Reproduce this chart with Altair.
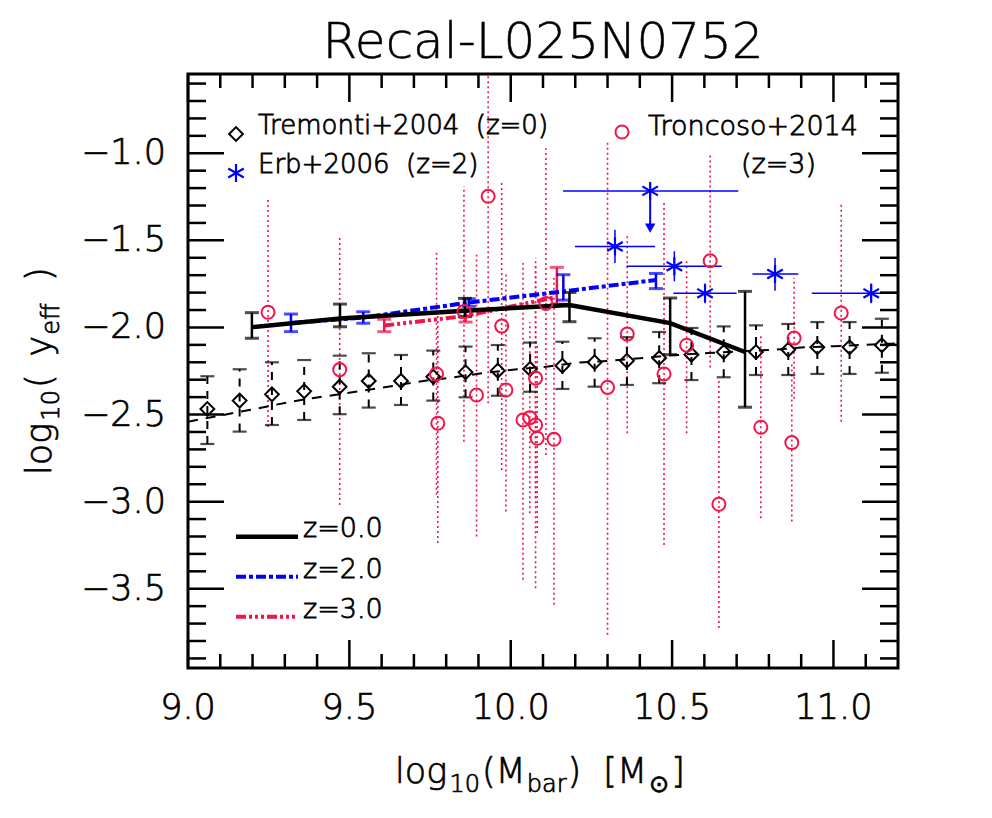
import altair as alt
import numpy as np
import pandas as pd

FONT = "DejaVu Sans"
FW = 300
RED = "#f0164a"
BLUE = "#0000ff"
W, H = 710, 594

# ---------------- axes ----------------
X_DOMAIN = [9.0, 11.2]
Y_DOMAIN = [-3.955, -0.545]
x_major = [9.0, 9.5, 10.0, 10.5, 11.0]
x_labels = ["9.0", "9.5", "10.0", "10.5", "11.0"]
y_major = [-3.5, -3.0, -2.5, -2.0, -1.5, -1.0]
y_labels = ["\u22123.5", "\u22123.0", "\u22122.5", "\u22122.0", "\u22121.5", "\u22121.0"]
x_minor = [9.1, 9.2, 9.3, 9.4, 9.6, 9.7, 9.8, 9.9, 10.1, 10.2, 10.3, 10.4,
           10.6, 10.7, 10.8, 10.9, 11.1]
y_minor = [-3.9, -3.8, -3.7, -3.6, -3.4, -3.3, -3.2, -3.1, -2.9, -2.8, -2.7,
           -2.6, -2.4, -2.3, -2.2, -2.1, -1.9, -1.8, -1.7, -1.6, -1.4, -1.3,
           -1.2, -1.1, -0.9, -0.8, -0.7, -0.6]

# ---------------- Tremonti+2004 (z=0) ----------------
trem_x = [9.06, 9.16, 9.26, 9.36, 9.47, 9.56, 9.66, 9.76, 9.86, 9.96, 10.06,
          10.16, 10.26, 10.36, 10.46, 10.56, 10.66, 10.76, 10.86, 10.95, 11.05, 11.15]
trem_y = [-2.468, -2.420, -2.384, -2.366, -2.340, -2.307, -2.307, -2.283, -2.257,
          -2.248, -2.238, -2.220, -2.200, -2.191, -2.175, -2.156, -2.141, -2.141,
          -2.128, -2.114, -2.114, -2.102]
trem_hi = [-2.280, -2.240, -2.200, -2.187, -2.162, -2.148, -2.158, -2.133, -2.110,
           -2.101, -2.087, -2.082, -2.062, -2.056, -2.026, -2.003, -1.994, -1.988,
           -1.980, -1.969, -1.969, -1.950]
trem_lo = [-2.669, -2.598, -2.560, -2.531, -2.498, -2.460, -2.445, -2.420, -2.401,
           -2.392, -2.369, -2.353, -2.340, -2.330, -2.320, -2.302, -2.286, -2.273,
           -2.273, -2.267, -2.267, -2.260]
# Tremonti fit curve (dashed)
fit_x = [9.0, 9.11, 9.19, 9.32, 9.39, 9.49, 9.59, 9.73, 9.82, 9.91, 10.02, 10.11,
         10.21, 10.31, 10.41, 10.50, 10.61, 10.81, 10.91, 11.0, 11.1, 11.2]
fit_y = [-2.541, -2.502, -2.474, -2.426, -2.405, -2.378, -2.349, -2.307, -2.287,
         -2.263, -2.240, -2.225, -2.202, -2.191, -2.175, -2.160, -2.147, -2.128,
         -2.114, -2.108, -2.099, -2.092]

# ---------------- simulation medians ----------------
z0_x = [9.198, 9.471, 9.858, 10.182, 10.494, 10.726]
z0_y = [-1.998, -1.948, -1.904, -1.871, -1.975, -2.141]
z0_hi = [-1.915, -1.866, -1.833, -1.799, -1.831, -1.793]
z0_lo = [-2.062, -1.996, -1.938, -1.967, -2.156, -2.458]

z2_x = [9.319, 9.543, 9.870, 10.163, 10.450]
z2_y = [-1.975, -1.943, -1.857, -1.793, -1.728]
z2_hi = [-1.923, -1.910, -1.835, -1.697, -1.690]
z2_lo = [-2.024, -1.976, -1.879, -1.843, -1.777]

z3_x = [9.608, 9.860, 10.143]
z3_y = [-1.989, -1.934, -1.825]
z3_hi = [-1.953, -1.900, -1.655]
z3_lo = [-2.024, -1.969, -1.866]

# ---------------- Erb+2006 (z=2) ----------------
erb_x = [10.432, 10.323, 10.507, 10.602, 10.819, 11.117]
erb_y = [-1.216, -1.535, -1.649, -1.804, -1.693, -1.804]
erb_xlo = [10.162, 10.199, 10.359, 10.504, 10.749, 10.933]
erb_xhi = [10.705, 10.447, 10.654, 10.700, 10.891, 11.300]
erb_ylo = [np.nan, -1.630, -1.735, -1.861, -1.789, -1.861]
erb_yhi = [np.nan, -1.439, -1.563, -1.747, -1.602, -1.747]
erb_lim_x = [10.432]
erb_lim_from = [-1.216]
erb_lim_to = [-1.430]

# ---------------- Troncoso+2014 (z=3) ----------------
tro_x = [9.248, 9.470, 9.770, 9.774, 9.855, 9.930, 9.894, 9.972, 9.985, 10.038,
         10.059, 10.077, 10.082, 10.077, 10.134, 10.109, 10.300, 10.361, 10.475,
         10.545, 10.618, 10.645, 10.775, 10.871, 10.878, 11.024]
tro_y = [-1.913, -2.242, -2.267, -2.550, -1.909, -1.247, -2.388, -1.992, -2.359,
         -2.531, -2.518, -2.560, -2.636, -2.291, -2.642, -1.862, -2.344, -2.038,
         -2.267, -2.102, -1.617, -3.015, -2.573, -2.661, -2.061, -1.917]
tro_hi = [-1.267, -1.487, -1.563, -1.860, -1.190, -0.060, -1.582, -1.171, -1.688,
          -1.630, -1.970, -1.649, -2.090, -1.600, -1.697, -0.971, -0.922, -1.467,
          -1.285, -1.611, -1.000, -2.300, -2.050, -2.210, -1.716, -1.296]
tro_lo = [-2.571, -3.019, -2.960, -3.237, -2.656, -2.435, -3.200, -2.818, -3.057,
          -3.449, -3.066, -3.497, -3.180, -2.980, -3.592, -2.732, -3.764, -2.607,
          -3.249, -2.607, -2.230, -3.726, -3.096, -3.114, -2.410, -2.541]

# ---------------- data frames ----------------
trem = pd.DataFrame({"x": trem_x, "y": trem_y, "lo": trem_lo, "hi": trem_hi})
fit = pd.DataFrame({"x": fit_x, "y": fit_y})
z0 = pd.DataFrame({"x": z0_x, "y": z0_y, "lo": z0_lo, "hi": z0_hi})
z2 = pd.DataFrame({"x": z2_x, "y": z2_y, "lo": z2_lo, "hi": z2_hi})
z3 = pd.DataFrame({"x": z3_x, "y": z3_y, "lo": z3_lo, "hi": z3_hi})
erb = pd.DataFrame({"x": erb_x, "y": erb_y, "xlo": erb_xlo, "xhi": erb_xhi,
                    "ylo": erb_ylo, "yhi": erb_yhi})
erb_err = erb.dropna()
erb_lim = pd.DataFrame({"x": erb_lim_x, "y": erb_lim_from, "y2": erb_lim_to})
tro = pd.DataFrame({"x": tro_x, "y": tro_y, "lo": tro_lo, "hi": tro_hi})

xs = alt.Scale(domain=X_DOMAIN, nice=False, zero=False)
ys = alt.Scale(domain=Y_DOMAIN, nice=False, zero=False)


def X(f="x"):
    return alt.X(f"{f}:Q", scale=xs, axis=None)


def Y(f="y"):
    return alt.Y(f"{f}:Q", scale=ys, axis=None)


def tstyle(size, stroke_w):
    kw = dict(font=FONT, fontSize=size, fontWeight=FW, color="black")
    if stroke_w:
        kw.update(stroke="black", strokeWidth=stroke_w)
    return kw


layers = []

# Troncoso dotted error bars
layers.append(alt.Chart(tro).mark_rule(color=RED, strokeWidth=1.6, strokeDash=[2, 3], clip=True)
              .encode(x=X(), y=Y("lo"), y2="hi:Q"))

# Tremonti fit (dashed)
layers.append(alt.Chart(fit).mark_line(color="black", strokeWidth=2, strokeDash=[10, 8], clip=True)
              .encode(x=X(), y=Y()))
# Tremonti error bars
layers.append(alt.Chart(trem).mark_rule(color="black", strokeWidth=2, strokeDash=[8, 7])
              .encode(x=X(), y=Y("lo"), y2="hi:Q"))
layers.append(alt.Chart(trem).transform_fold(["lo", "hi"], as_=["k", "v"])
              .mark_tick(orient="horizontal", color="black", size=14, thickness=2.2)
              .encode(x=X(), y=Y("v")))
layers.append(alt.Chart(trem).mark_point(shape="diamond", filled=False, color="black",
                                         size=190, strokeWidth=2, opacity=1)
              .encode(x=X(), y=Y()))


def sim_layers(df, color, dash, width=4):
    out = []
    out.append(alt.Chart(df).mark_rule(color=color, strokeWidth=2.5)
               .encode(x=X(), y=Y("lo"), y2="hi:Q"))
    out.append(alt.Chart(df).transform_fold(["lo", "hi"], as_=["k", "v"])
               .mark_tick(orient="horizontal", color=color, size=14, thickness=3)
               .encode(x=X(), y=Y("v")))
    kw = dict(color=color, strokeWidth=width)
    if dash:
        kw["strokeDash"] = dash
    out.append(alt.Chart(df).mark_line(**kw).encode(x=X(), y=Y()))
    return out


DASH_Z2 = [10, 3, 4, 3]
DASH_Z3 = [10, 3, 3, 3, 3, 3, 3, 3]
layers += sim_layers(z3, RED, DASH_Z3)
layers += sim_layers(z2, BLUE, DASH_Z2)
layers += sim_layers(z0, "black", None, width=4.5)

# Erb
STAR = "M0,-1L0,1M-0.87,-0.5L0.87,0.5M-0.87,0.5L0.87,-0.5"
layers.append(alt.Chart(erb).mark_rule(color=BLUE, strokeWidth=1.5, clip=True)
              .encode(x=X("xlo"), x2="xhi:Q", y=Y()))
layers.append(alt.Chart(erb_err).mark_rule(color=BLUE, strokeWidth=1.5)
              .encode(x=X(), y=Y("ylo"), y2="yhi:Q"))
layers.append(alt.Chart(erb_lim).mark_rule(color=BLUE, strokeWidth=2)
              .encode(x=X(), y=Y(), y2="y2:Q"))
layers.append(alt.Chart(erb_lim).mark_point(shape="triangle-down", filled=True, color=BLUE,
                                            size=110, opacity=1)
              .encode(x=X(), y=Y("y2")))
layers.append(alt.Chart(erb).mark_point(shape=STAR, filled=False, color=BLUE, size=320,
                                        strokeWidth=2.2, opacity=1)
              .encode(x=X(), y=Y()))

# Troncoso circles
layers.append(alt.Chart(tro).mark_point(shape="circle", filled=False, color=RED, size=170,
                                        strokeWidth=2, opacity=1)
              .encode(x=X(), y=Y()))

# ---------------- inward ticks ----------------
def tick_layers(vals, chan, length):
    df = pd.DataFrame({"v": vals})
    out = []
    if chan == "y":
        for x0, x1 in [(0, length), (W, W - length)]:
            out.append(alt.Chart(df).mark_rule(color="black", strokeWidth=2.5)
                       .encode(y=Y("v"), x=alt.value(x0), x2=alt.value(x1)))
    else:
        for y0, y1 in [(H, H - length), (0, length)]:
            out.append(alt.Chart(df).mark_rule(color="black", strokeWidth=2.5)
                       .encode(x=X("v"), y=alt.value(y0), y2=alt.value(y1)))
    return out


layers += tick_layers(y_major, "y", 36)
layers += tick_layers(y_minor, "y", 18)
layers += tick_layers(x_major, "x", 28)
layers += tick_layers(x_minor, "x", 14)

# tick labels (placed through the scales)
layers.append(alt.Chart(pd.DataFrame({"v": x_major, "t": x_labels}))
              .mark_text(align="center", baseline="top", **tstyle(35, 0.7))
              .encode(x=X("v"), y=alt.value(H + 23), text="t:N"))
layers.append(alt.Chart(pd.DataFrame({"v": y_major, "t": y_labels}))
              .mark_text(align="right", baseline="middle", **tstyle(35, 0.7))
              .encode(y=Y("v"), x=alt.value(-22), text="t:N"))

# ---------------- text helpers ----------------
def text(t, x, y, size, align="left", baseline="alphabetic", angle=0, sw=0.7):
    kw = dict(align=align, baseline=baseline, **tstyle(size, sw))
    if angle:
        kw["angle"] = angle
    return (alt.Chart(pd.DataFrame({"t": [t]})).mark_text(**kw)
            .encode(text="t:N", x=alt.value(x), y=alt.value(y)))


def point(x, y, **kw):
    return (alt.Chart(pd.DataFrame({"t": [0]})).mark_point(opacity=1, **kw)
            .encode(x=alt.value(x), y=alt.value(y)))


def rule(x0, x1, y, **kw):
    return (alt.Chart(pd.DataFrame({"t": [0]})).mark_rule(**kw)
            .encode(x=alt.value(x0), x2=alt.value(x1), y=alt.value(y)))


# title
layers.append(text("Recal-L025N0752", W / 2, -16, 50, align="center", sw=0.5))

# legend (top)
layers.append(point(48, 60, shape="diamond", filled=False, color="black", size=190, strokeWidth=2))
layers.append(text("Tremonti+2004\u00a0\u00a0(z=0)", 70, 60, 26, sw=0.8))
layers.append(point(48, 99, shape=STAR, filled=False, color=BLUE, size=320, strokeWidth=2.2))
layers.append(text("Erb+2006\u00a0\u00a0(z=2)", 70, 99, 26, sw=0.8))
layers.append(point(434, 58, shape="circle", filled=False, color=RED, size=170, strokeWidth=2))
layers.append(text("Troncoso+2014", 460, 61, 27, sw=0.8))
layers.append(text("(z=3)", 553, 99, 27, sw=0.8))

# legend (bottom)
layers.append(rule(48, 110, 462.7, color="black", strokeWidth=4.5))
layers.append(text("z=0.0", 115, 463, 27, sw=0.8))
layers.append(rule(48, 110, 502.7, color=BLUE, strokeWidth=4, strokeDash=DASH_Z2))
layers.append(text("z=2.0", 115, 504, 27, sw=0.8))
layers.append(rule(48, 110, 542.7, color=RED, strokeWidth=4, strokeDash=DASH_Z3))
layers.append(text("z=3.0", 115, 544, 27, sw=0.8))

# ---------------- axis titles with subscripts (sequential layout) ----------------
ADV = {"l": 0.278, "o": 0.612, "g": 0.635, "1": 0.636, "0": 0.636, "(": 0.390,
       "M": 0.863, "b": 0.635, "a": 0.613, "r": 0.411, ")": 0.390, "[": 0.390,
       "]": 0.390, "\u2299": 0.838, "e": 0.615, "f": 0.352, "y": 0.592}
F_MAIN, F_SUB = 35, 24


def layout(pieces, start):
    pos, out = start, []
    for t, sub, gap in pieces:
        pos += gap
        out.append((t, sub, pos))
        pos += sum(ADV[c] for c in t) * (F_SUB if sub else F_MAIN)
    return out


x_title = [("log", False, 0), ("10", True, 1), ("(M", False, 2), ("bar", True, 1),
           (")", False, 1), ("[M", False, 22), ("\u2299", True, 2), ("]", False, 2)]
for t, sub, px in layout(x_title, 395 - 188):
    layers.append(text(t, px, 718 if sub else 709, F_SUB if sub else F_MAIN))

y_title = [("log", False, 0), ("10", True, 1), ("(", False, 2), ("y", False, 18),
           ("eff", True, 1), (")", False, 22)]
for t, sub, p in layout(y_title, 0):
    layers.append(text(t, (59 if sub else 51) - 188, (475 - 74) - p,
                       F_SUB if sub else F_MAIN, angle=270))

chart = alt.layer(*layers).properties(
    width=W, height=H,
    padding={"left": 180, "top": 66, "right": 80, "bottom": 130},
    autosize=alt.AutoSizeParams(type="none"),
    background="white",
).configure_view(stroke="black", strokeWidth=3)

chart.save("out.html", embed_options={"renderer": "svg", "actions": False})
